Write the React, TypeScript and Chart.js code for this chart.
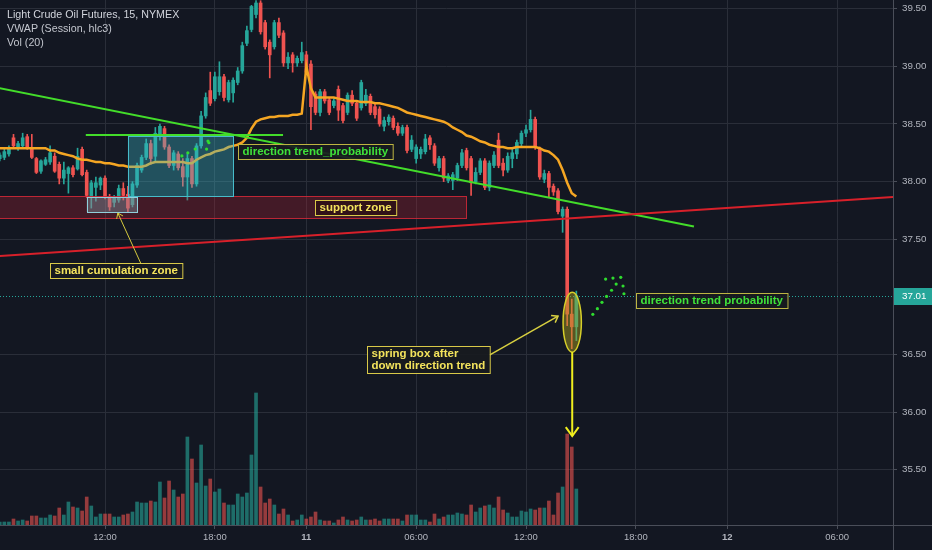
import React, { useEffect, useRef } from "react";
import { Chart, registerables } from "chart.js";
Chart.register(...registerables);

const FONT = '"Liberation Sans", Arial, sans-serif';
const BG = "#131722";
const UP = "#26a69a";
const DOWN = "#ef5350";
const UP_VOL = "rgba(38,166,154,0.6)";
const DOWN_VOL = "rgba(239,83,80,0.6)";

// 15-minute bars, index 0 = first visible bar (day 10 morning)
const opens = [
  38.20, 38.21, 38.24, 38.38, 38.29, 38.31, 38.39, 38.29, 38.20, 38.09,
  38.15, 38.17, 38.22, 38.15, 38.03, 38.07, 38.12, 38.11, 38.28, 38.08,
  37.86, 37.95, 37.97, 38.03, 37.87, 37.82, 37.84, 37.94, 37.89, 37.80,
  37.97, 38.10, 38.21, 38.33, 38.22, 38.40, 38.46, 38.30, 38.14, 38.24,
  38.13, 38.04, 38.20, 37.98, 38.31, 38.57, 38.79, 38.72, 38.78, 38.91,
  38.71, 38.77, 38.86, 38.96, 39.20, 39.32, 39.45, 39.55, 39.38, 39.21,
  39.17, 39.38, 39.29, 39.03, 39.10, 39.03, 39.05, 39.10, 39.02, 38.76,
  38.60, 38.78, 38.71, 38.66, 38.80, 38.66, 38.60, 38.75, 38.68, 38.64,
  38.68, 38.74, 38.65, 38.63, 38.48, 38.52, 38.55, 38.48, 38.42, 38.47,
  38.28, 38.20, 38.24, 38.26, 38.38, 38.31, 38.12, 38.20, 38.01, 38.01,
  38.03, 38.14, 38.27, 38.20, 38.00, 38.08, 38.18, 37.95, 38.14, 38.36,
  38.16, 38.10, 38.20, 38.24, 38.33, 38.42, 38.45, 38.54, 38.28, 38.02,
  38.07, 37.96, 37.92, 37.70, 37.76, 36.85, 36.74,
];
const highs = [
  38.25, 38.28, 38.31, 38.41, 38.35, 38.42, 38.41, 38.41, 38.21, 38.19,
  38.21, 38.31, 38.25, 38.17, 38.17, 38.13, 38.14, 38.29, 38.30, 38.10,
  38.01, 38.04, 38.04, 38.05, 37.89, 37.88, 37.97, 37.99, 37.96, 38.00,
  38.16, 38.23, 38.37, 38.36, 38.47, 38.50, 38.48, 38.32, 38.27, 38.26,
  38.20, 38.24, 38.22, 38.33, 38.61, 38.77, 38.95, 38.95, 39.04, 38.93,
  38.88, 38.90, 38.99, 39.21, 39.35, 39.53, 39.57, 39.57, 39.40, 39.23,
  39.40, 39.42, 39.31, 39.12, 39.12, 39.09, 39.21, 39.13, 39.05, 38.78,
  38.80, 38.80, 38.73, 38.72, 38.83, 38.68, 38.77, 38.79, 38.70, 38.88,
  38.80, 38.76, 38.67, 38.65, 38.56, 38.58, 38.57, 38.51, 38.49, 38.49,
  38.40, 38.32, 38.30, 38.41, 38.40, 38.33, 38.22, 38.22, 38.07, 38.08,
  38.16, 38.28, 38.29, 38.22, 38.12, 38.20, 38.20, 38.18, 38.26, 38.42,
  38.20, 38.25, 38.28, 38.36, 38.44, 38.49, 38.62, 38.56, 38.30, 38.10,
  38.09, 37.98, 37.94, 37.78, 37.78, 36.98, 37.05,
];
const lows = [
  38.18, 38.19, 38.22, 38.29, 38.27, 38.30, 38.28, 38.20, 38.07, 38.07,
  38.14, 38.15, 38.08, 37.98, 37.98, 37.90, 38.04, 38.10, 38.05, 37.86,
  37.77, 37.83, 37.93, 37.85, 37.75, 37.78, 37.82, 37.84, 37.74, 37.78,
  37.95, 38.08, 38.19, 38.15, 38.18, 38.36, 38.28, 38.12, 38.10, 38.10,
  37.96, 37.84, 37.95, 37.96, 38.29, 38.55, 38.66, 38.70, 38.75, 38.70,
  38.69, 38.69, 38.84, 38.94, 39.18, 39.30, 39.42, 39.28, 39.15, 38.90,
  39.15, 39.25, 39.00, 38.98, 38.95, 39.00, 39.03, 38.93, 38.45, 38.58,
  38.57, 38.68, 38.58, 38.64, 38.53, 38.51, 38.58, 38.66, 38.53, 38.62,
  38.66, 38.58, 38.55, 38.48, 38.44, 38.49, 38.45, 38.40, 38.40, 38.25,
  38.26, 38.16, 38.20, 38.24, 38.28, 38.14, 38.09, 38.00, 37.99, 37.93,
  38.01, 38.12, 38.10, 37.88, 37.98, 38.06, 37.93, 37.92, 38.12, 38.12,
  38.05, 38.08, 38.12, 38.20, 38.31, 38.39, 38.43, 38.28, 38.02, 37.99,
  37.86, 37.88, 37.72, 37.56, 36.75, 36.55, 36.62,
];
const closes = [
  38.23, 38.26, 38.29, 38.31, 38.33, 38.38, 38.29, 38.21, 38.08, 38.18,
  38.19, 38.25, 38.09, 38.03, 38.10, 38.12, 38.06, 38.22, 38.06, 37.88,
  37.99, 37.99, 38.03, 37.87, 37.78, 37.86, 37.94, 37.88, 37.77, 37.98,
  38.14, 38.21, 38.33, 38.20, 38.42, 38.48, 38.30, 38.14, 38.25, 38.12,
  38.04, 38.20, 37.98, 38.31, 38.57, 38.73, 38.68, 38.91, 38.91, 38.73,
  38.86, 38.88, 38.96, 39.18, 39.31, 39.52, 39.55, 39.30, 39.17, 39.10,
  39.38, 39.27, 39.03, 39.08, 39.03, 39.07, 39.12, 38.95, 38.65, 38.60,
  38.78, 38.70, 38.60, 38.70, 38.62, 38.53, 38.75, 38.68, 38.55, 38.86,
  38.75, 38.60, 38.58, 38.50, 38.53, 38.56, 38.47, 38.42, 38.47, 38.27,
  38.36, 38.30, 38.28, 38.37, 38.32, 38.16, 38.20, 38.03, 38.05, 38.06,
  38.14, 38.25, 38.12, 37.99, 38.08, 38.18, 37.95, 38.16, 38.23, 38.14,
  38.10, 38.22, 38.25, 38.34, 38.42, 38.45, 38.54, 38.30, 38.04, 38.07,
  37.95, 37.91, 37.74, 37.76, 36.85, 36.74, 37.01,
];
const volumes = [
  300, 300, 300, 600, 400, 500, 400, 900, 900, 700,
  700, 1000, 900, 1700, 1000, 2300, 1800, 1700, 1400, 2800,
  1900, 800, 1100, 1100, 1100, 800, 800, 1000, 1100, 1300,
  2300, 2200, 2200, 2400, 2300, 4300, 2700, 4400, 3500, 2800,
  3100, 8800, 6600, 4200, 8000, 3900, 4600, 3300, 3600, 2200,
  2000, 2000, 3100, 2800, 3200, 7000, 13200, 3800, 2200, 2600,
  2000, 1100, 1600, 1000, 400, 500, 1000, 600, 800, 1300,
  500, 400, 400, 200, 500, 800, 500, 400, 500, 800,
  500, 500, 600, 400, 600, 600, 600, 600, 400, 1000,
  1000, 1000, 500, 500, 300, 1100, 600, 800, 1000, 1000,
  1200, 1100, 1000, 2000, 1300, 1700, 1900, 2000, 1700, 2800,
  1500, 1200, 800, 800, 1400, 1300, 1600, 1500, 1700, 1700,
  2400, 1000, 3200, 3800, 9100, 7800, 3600,
];
const vwap = [
  38.29, 38.29, 38.29, 38.29, 38.29, 38.29, 38.29, 38.29, 38.29, 38.29,
  38.29, 38.27, 38.27, 38.25, 38.24, 38.23, 38.22, 38.20, 38.19, 38.19,
  38.18, 38.17, 38.17, 38.16, 38.16, 38.15, 38.14, 38.14, 38.13, 38.13,
  38.13, 38.13, 38.14, 38.16, 38.17, 38.17, 38.17, 38.17, 38.17, 38.17,
  38.17, 38.16, 38.16, 38.19, 38.21, 38.23, 38.24, 38.26, 38.27, 38.28,
  38.30, 38.31, 38.32, 38.34, 38.38, 38.46, 38.52, 38.54, 38.55, 38.56,
  38.56, 38.57, 38.57, 38.57, 38.58, 38.58, 38.59, 39.00, 38.81, 38.73,
  38.73, 38.73, 38.73, 38.73, 38.72, 38.71, 38.70, 38.70, 38.70, 38.69,
  38.69, 38.69, 38.68, 38.68, 38.67, 38.66, 38.65, 38.64, 38.62, 38.60,
  38.59, 38.58, 38.57, 38.56, 38.55, 38.54, 38.53, 38.52, 38.50, 38.47,
  38.45, 38.43, 38.40, 38.39, 38.37, 38.35, 38.34, 38.32, 38.31, 38.30,
  38.30, 38.29, 38.29, 38.30, 38.30, 38.30, 38.30, 38.30, 38.29, 38.27,
  38.26, 38.23, 38.19, 38.10, 37.99, 37.90, 37.87,
];
const timeTickIndex = [23, 47, 67, 91, 115, 139, 159, 183];
const timeTickLabels = ["12:00", "18:00", "11", "06:00", "12:00", "18:00", "12", "06:00"];
const priceTicks = [35.5, 36.0, 36.5, 37.5, 38.0, 38.5, 39.0, 39.5];
const lastPrice = 37.01;
const legendLines = ["Light Crude Oil Futures, 15, NYMEX", "VWAP (Session, hlc3)", "Vol (20)"];

// drawings (in bar-index / price coordinates)
const zoneBoxes = [
  { i0: -2, i1: 101.9, p0: 37.875, p1: 37.684, fill: "rgba(178,34,52,0.3)", stroke: "rgba(205,40,55,0.9)" },
  { i0: 28.0, i1: 51.0, p0: 38.396, p1: 37.875, fill: "rgba(64,190,205,0.35)", stroke: "#47bccb" },
  { i0: 19.0, i1: 30.0, p0: 37.866, p1: 37.736, fill: "rgba(150,195,205,0.3)", stroke: "#8fd0dc" },
];
const trendLines = [
  { i0: 0, p0: 38.81, i1: 151.7, p1: 37.61, color: "#43dd2a", w: 2 },
  { i0: 0, p0: 37.354, i1: 195.2, p1: 37.866, color: "#d8202a", w: 2 },
  { i0: 18.8, p0: 38.405, i1: 61.9, p1: 38.405, color: "#43dd2a", w: 2 },
];
const arrows = [
  { i0: 30.9, p0: 37.284, i1: 25.8, p1: 37.727, color: "#d6ca3e", w: 1, head: 6 },
  { i0: 107.1, p0: 36.497, i1: 122.0, p1: 36.832, color: "#d8d040", w: 1.5, head: 7 },
  { i0: 125.1, p0: 36.521, i1: 125.1, p1: 35.792, color: "#f0ee1e", w: 2, head: 11 },
];
const springEllipse = { i0: 123.1, i1: 127.1, p0: 37.04, p1: 36.52 };
const dotPathI = [129.6, 130.6, 131.6, 132.6, 133.7, 134.7, 136.2, 136.4, 135.7, 134.0, 132.4, 39.8, 41.1, 42.7, 45.5, 45.7, 45.2];
const dotPathP = [36.848, 36.897, 36.952, 37.004, 37.057, 37.111, 37.094, 37.027, 37.169, 37.163, 37.154, 38.223, 38.250, 38.283, 38.352, 38.337, 38.282];
const textLabels = [
  { lines: ["support zone"], i: 68.9, p: 37.84, color: "#f3e35c", border: "#d9c948", fill: "rgba(48,18,24,0.9)" },
  { lines: ["direction trend_probability"], i: 52.1, p: 38.326, color: "#3fe23a", border: "#bdb542", fill: "rgba(24,27,32,0.92)" },
  { lines: ["small cumulation zone"], i: 11.0, p: 37.293, color: "#f3e35c", border: "#d9c948", fill: "rgba(24,27,32,0.92)" },
  { lines: ["spring box after", "down direction trend"], i: 80.3, p: 36.573, color: "#f3e35c", border: "#d9c948", fill: "rgba(24,27,32,0.92)" },
  { lines: ["direction trend probability"], i: 139.1, p: 37.033, color: "#3fe23a", border: "#bdb542", fill: "rgba(24,27,32,0.92)" },
];

function arrowHead(ctx: CanvasRenderingContext2D, x0: number, y0: number, x1: number, y1: number, len: number) {
  const a = Math.atan2(y1 - y0, x1 - x0);
  ctx.beginPath();
  ctx.moveTo(x1 - len * Math.cos(a - Math.PI / 5), y1 - len * Math.sin(a - Math.PI / 5));
  ctx.lineTo(x1, y1);
  ctx.lineTo(x1 - len * Math.cos(a + Math.PI / 5), y1 - len * Math.sin(a + Math.PI / 5));
  ctx.stroke();
}

const drawingsPlugin = {
  id: "drawings",
  beforeDraw(chart: any) {
    const { ctx, width, height } = chart;
    ctx.save();
    ctx.fillStyle = BG;
    ctx.fillRect(0, 0, width, height);
    ctx.restore();
  },
  afterDatasetsDraw(chart: any) {
    const { ctx, chartArea: a, scales } = chart;
    const X = (v: number) => scales.x.getPixelForValue(v);
    const Y = (v: number) => scales.y.getPixelForValue(v);
    ctx.save();
    ctx.beginPath();
    ctx.rect(a.left, a.top, a.right - a.left, a.bottom - a.top);
    ctx.clip();

    for (const b of zoneBoxes) {
      const x0 = X(b.i0), x1 = X(b.i1), y0 = Y(b.p0), y1 = Y(b.p1);
      ctx.fillStyle = b.fill;
      ctx.fillRect(x0, y0, x1 - x0, y1 - y0);
      ctx.strokeStyle = b.stroke;
      ctx.lineWidth = 1;
      ctx.strokeRect(Math.round(x0) + 0.5, Math.round(y0) + 0.5, Math.round(x1 - x0), Math.round(y1 - y0));
    }
    for (const l of trendLines) {
      ctx.strokeStyle = l.color;
      ctx.lineWidth = l.w;
      ctx.beginPath();
      ctx.moveTo(X(l.i0), Y(l.p0));
      ctx.lineTo(X(l.i1), Y(l.p1));
      ctx.stroke();
    }
    // last price dotted line
    const yp = Math.round(Y(lastPrice)) + 0.5;
    ctx.save();
    ctx.strokeStyle = UP;
    ctx.lineWidth = 1;
    ctx.setLineDash([1, 2]);
    ctx.beginPath();
    ctx.moveTo(a.left, yp);
    ctx.lineTo(a.right, yp);
    ctx.stroke();
    ctx.restore();

    // ellipse
    const ex0 = X(springEllipse.i0), ex1 = X(springEllipse.i1), ey0 = Y(springEllipse.p0), ey1 = Y(springEllipse.p1);
    ctx.beginPath();
    ctx.ellipse((ex0 + ex1) / 2, (ey0 + ey1) / 2, (ex1 - ex0) / 2, (ey1 - ey0) / 2, 0, 0, Math.PI * 2);
    ctx.fillStyle = "rgba(175,165,30,0.45)";
    ctx.fill();
    ctx.strokeStyle = "#d6cf2a";
    ctx.lineWidth = 1.5;
    ctx.stroke();

    for (const ar of arrows) {
      const x0 = X(ar.i0), y0 = Y(ar.p0), x1 = X(ar.i1), y1 = Y(ar.p1);
      ctx.strokeStyle = ar.color;
      ctx.lineWidth = ar.w;
      ctx.beginPath();
      ctx.moveTo(x0, y0);
      ctx.lineTo(x1, y1);
      ctx.stroke();
      arrowHead(ctx, x0, y0, x1, y1, ar.head);
    }

    ctx.fillStyle = "#2fdc2f";
    for (let k = 0; k < dotPathI.length; k++) {
      ctx.beginPath();
      ctx.arc(X(dotPathI[k]), Y(dotPathP[k]), 1.6, 0, Math.PI * 2);
      ctx.fill();
    }

    ctx.font = `bold 11.5px ${FONT}`;
    ctx.textBaseline = "middle";
    ctx.textAlign = "left";
    for (const t of textLabels) {
      const x0 = Math.round(X(t.i)), y0 = Math.round(Y(t.p));
      const w = Math.max(...t.lines.map((s) => ctx.measureText(s).width)) + 9;
      const h = t.lines.length * 12 + 3;
      ctx.fillStyle = t.fill;
      ctx.fillRect(x0, y0, w, h);
      ctx.strokeStyle = t.border;
      ctx.lineWidth = 1;
      ctx.strokeRect(x0 + 0.5, y0 + 0.5, w, h);
      ctx.fillStyle = t.color;
      t.lines.forEach((s, k) => ctx.fillText(s, x0 + 4.5, y0 + 8 + k * 12));
    }
    ctx.restore();

    // legend
    ctx.save();
    ctx.font = `10.7px ${FONT}`;
    ctx.textBaseline = "middle";
    ctx.textAlign = "left";
    legendLines.forEach((s, k) => {
      ctx.fillStyle = k === 0 ? "#d1d4dc" : "#c3c6ce";
      ctx.fillText(s, 7, 15 + k * 14);
    });
    ctx.restore();
  },
  afterDraw(chart: any) {
    const { ctx, chartArea: a, scales, width, height } = chart;
    ctx.save();
    ctx.strokeStyle = "#4a4e59";
    ctx.lineWidth = 1;
    ctx.beginPath();
    ctx.moveTo(Math.round(a.right) + 0.5, 0);
    ctx.lineTo(Math.round(a.right) + 0.5, height);
    ctx.moveTo(0, Math.round(a.bottom) + 0.5);
    ctx.lineTo(width, Math.round(a.bottom) + 0.5);
    ctx.stroke();
    const yp = scales.y.getPixelForValue(lastPrice);
    ctx.fillStyle = UP;
    ctx.fillRect(Math.round(a.right) + 1, Math.round(yp) - 8, width - a.right, 17);
    ctx.fillStyle = "#ffffff";
    ctx.font = `9.8px ${FONT}`;
    ctx.textBaseline = "middle";
    ctx.textAlign = "left";
    ctx.fillText(lastPrice.toFixed(2), Math.round(a.right) + 9, Math.round(yp) + 0.5);
    ctx.restore();
  },
};

export default function App() {
  const ref = useRef<HTMLCanvasElement>(null);
  useEffect(() => {
    const canvas = ref.current;
    if (!canvas) return;
    const idx = opens.map((_, i) => i);
    const isUp = (i: number) => closes[i] >= opens[i];
    const chart = new Chart(canvas, {
      type: "bar",
      data: {
        datasets: [
          {
            type: "line",
            label: "VWAP",
            data: idx.map((i) => ({ x: i, y: vwap[i] })),
            borderColor: "#f5a623",
            borderWidth: 2.5,
            pointRadius: 0,
            tension: 0,
            order: 1,
            yAxisID: "y",
          } as any,
          {
            label: "bodies",
            data: idx.map((i) => ({ x: i, y: [Math.min(opens[i], closes[i]), Math.max(opens[i], closes[i])] })),
            backgroundColor: (c: any) => (isUp(c.dataIndex) ? UP : DOWN),
            barThickness: 3,
            grouped: false,
            borderWidth: 0,
            order: 2,
            yAxisID: "y",
          } as any,
          {
            label: "wicks",
            data: idx.map((i) => ({ x: i, y: [lows[i], highs[i]] })),
            backgroundColor: (c: any) => (isUp(c.dataIndex) ? UP : DOWN),
            barThickness: 1,
            grouped: false,
            borderWidth: 0,
            order: 3,
            yAxisID: "y",
          } as any,
          {
            label: "volume",
            data: idx.map((i) => ({ x: i, y: volumes[i] })),
            backgroundColor: (c: any) => (isUp(c.dataIndex) ? UP_VOL : DOWN_VOL),
            barThickness: 3,
            grouped: false,
            borderWidth: 0,
            order: 4,
            yAxisID: "yv",
          } as any,
        ],
      },
      options: {
        animation: false,
        responsive: false,
        devicePixelRatio: 1,
        events: [],
        layout: { padding: 0 },
        plugins: { legend: { display: false }, tooltip: { enabled: false } },
        scales: {
          x: {
            type: "linear",
            min: 0.05,
            max: 195.2,
            offset: false,
            afterBuildTicks: (s: any) => {
              s.ticks = timeTickIndex.map((v) => ({ value: v }));
            },
            afterFit: (s: any) => {
              s.height = 25;
              s.paddingLeft = 0;
              s.paddingRight = 0;
            },
            ticks: {
              autoSkip: false,
              maxRotation: 0,
              color: "#b2b5be",
              padding: 3,
              font: (c: any) => ({
                family: FONT,
                size: 9.5,
                weight: c.index !== undefined && timeTickLabels[c.index] && timeTickLabels[c.index].length <= 2 ? "bold" : "normal",
              }),
              callback: (v: any) => {
                const k = timeTickIndex.indexOf(Number(v));
                return k >= 0 ? timeTickLabels[k] : "";
              },
            },
            grid: { offset: false, color: "#2a2e39", tickColor: "#4a4e59", tickLength: 4, drawTicks: true },
            border: { display: false },
          } as any,
          y: {
            type: "linear",
            position: "right",
            min: 35.02,
            max: 39.576,
            afterBuildTicks: (s: any) => {
              s.ticks = priceTicks.map((v) => ({ value: v }));
            },
            afterFit: (s: any) => {
              s.width = 39;
              s.paddingTop = 0;
              s.paddingBottom = 0;
            },
            ticks: {
              color: "#b2b5be",
              padding: 5,
              font: { family: FONT, size: 9.8 },
              callback: (v: any) => Number(v).toFixed(2),
            },
            grid: { offset: false, color: "#2a2e39", tickColor: "#4a4e59", tickLength: 4, drawTicks: true },
            border: { display: false },
          } as any,
          yv: {
            type: "linear",
            display: false,
            min: 0,
            max: 52500,
          },
        },
      },
      plugins: [drawingsPlugin as any],
    });
    return () => chart.destroy();
  }, []);
  return (
    <div style={{ position: "fixed", left: 0, top: 0, width: 932, height: 550, background: BG }}>
      <canvas ref={ref} width={932} height={550} style={{ display: "block", width: 932, height: 550 }} />
    </div>
  );
}
